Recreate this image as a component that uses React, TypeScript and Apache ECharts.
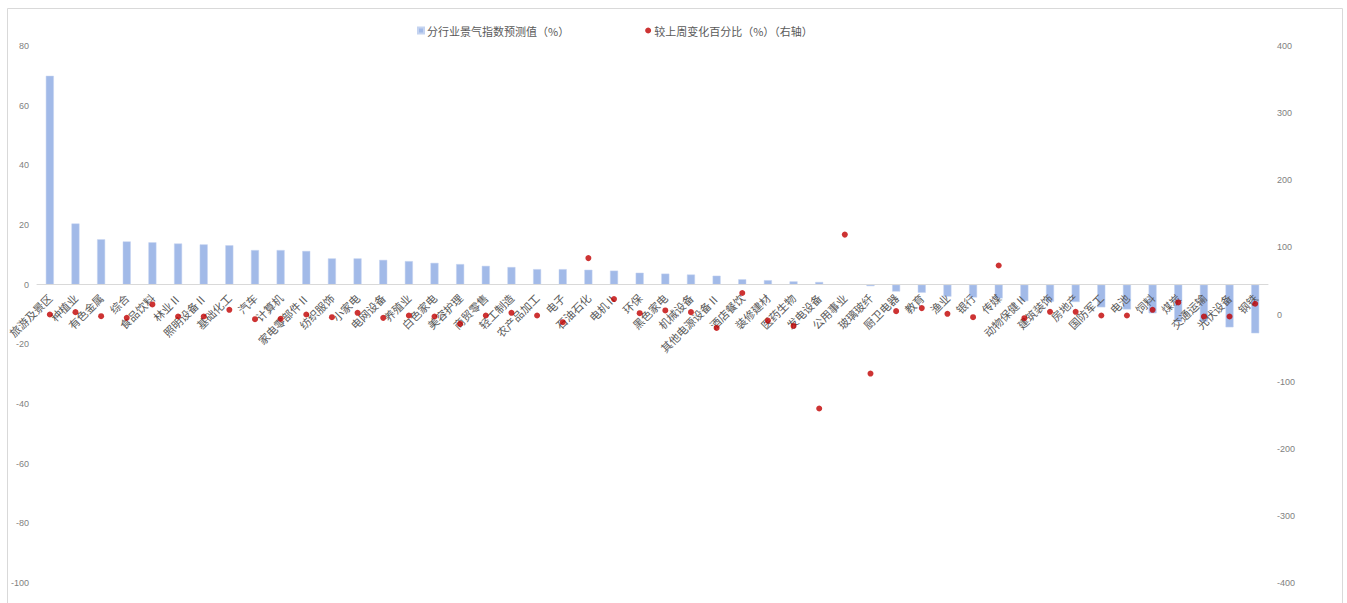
import React, { useEffect, useRef } from "react";
import * as echarts from "echarts";

const categories = [
  "旅游及景区", "种植业", "有色金属", "综合", "食品饮料", "林业Ⅱ", "照明设备Ⅱ", "基础化工",
  "汽车", "计算机", "家电零部件Ⅱ", "纺织服饰", "小家电", "电网设备", "养殖业", "白色家电",
  "美容护理", "商贸零售", "轻工制造", "农产品加工", "电子", "石油石化", "电机Ⅱ", "环保",
  "黑色家电", "机械设备", "其他电源设备Ⅱ", "酒店餐饮", "装修建材", "医药生物", "发电设备", "公用事业",
  "玻璃玻纤", "厨卫电器", "教育", "渔业", "银行", "传媒", "动物保健Ⅱ", "建筑装饰",
  "房地产", "国防军工", "电池", "饲料", "煤炭", "交通运输", "光伏设备", "钢铁",
];

const indexValues = [
  70.0, 20.5, 15.2, 14.5, 14.2, 13.8, 13.5, 13.2,
  11.6, 11.6, 11.3, 8.8, 8.8, 8.3, 7.9, 7.3,
  6.9, 6.3, 5.9, 5.2, 5.2, 5.0, 4.7, 4.0,
  3.7, 3.4, 3.0, 1.8, 1.5, 1.1, 0.9, 0.1,
  -0.5, -2.3, -2.7, -4.0, -4.3, -4.6, -5.5, -5.7,
  -5.8, -7.6, -8.3, -9.6, -12.5, -12.5, -14.3, -16.3,
];

const weeklyChange = [
  0, 3.5, -2.5, -5, 15, -3, -3, 7,
  -7, -6.5, 0, -4, 2.5, -5, -1.5, -3,
  -14, -1.5, 2.5, -1.5, -11.5, 84, 23, 2,
  6, 3.5, -20, 32, -9, -17, -140, 119,
  -88, 5, 9.5, 1, -4, 73, -5.5, 4,
  4, -1.5, -1.5, 7, 18, -3, -3, 16,
];

const seriesNames = ["分行业景气指数预测值（%）", "较上周变化百分比（%）（右轴）"];

const LEFT_MIN = -100;
const LEFT_MAX = 80;
const GRID_TOP = 46;
const GRID_BOTTOM = 20;
const CHART_H = 603;

export default function App() {
  const ref = useRef<HTMLDivElement>(null);

  useEffect(() => {
    document.body.style.margin = "0";
    if (!ref.current) return;
    const chart = echarts.init(ref.current, null, { renderer: "svg" });
    const plotH = CHART_H - GRID_TOP - GRID_BOTTOM;
    const zeroOffset = -(plotH * (0 - LEFT_MIN)) / (LEFT_MAX - LEFT_MIN);
    const axisLabelStyle = {
      color: "#7f7f7f",
      fontSize: 9,
      fontFamily: "Liberation Sans, Arial, sans-serif",
    };
    chart.setOption({
      animation: false,
      backgroundColor: "#ffffff",
      graphic: [
        {
          type: "rect",
          shape: { x: 7.5, y: 8.5, width: 1335, height: 620 },
          style: { fill: "none", stroke: "#d9d9d9", lineWidth: 1 },
          silent: true,
          z: 0,
        },
      ],
      legend: {
        left: 412,
        top: 20,
        itemGap: 76,
        itemWidth: 6,
        itemHeight: 6,
        textStyle: {
          color: "#595959",
          fontSize: 11,
          padding: [0, 0, 0, -2],
          fontFamily: "Noto Sans CJK SC, sans-serif",
        },
        data: [
          { name: seriesNames[0], icon: "rect" },
          { name: seriesNames[1], icon: "circle" },
        ],
      },
      grid: {
        left: 37,
        right: 79,
        top: GRID_TOP,
        bottom: GRID_BOTTOM,
        containLabel: false,
        outerBoundsMode: "none",
      },
      xAxis: {
        type: "category",
        data: categories,
        position: "bottom",
        offset: zeroOffset,
        z: 3,
        axisLine: {
          show: true,
          onZero: false,
          lineStyle: { color: "#d9d9d9", width: 1 },
        },
        axisTick: { show: false },
        axisLabel: {
          interval: 0,
          rotate: 45,
          margin: 11,
          color: "#595959",
          fontSize: 11,
          fontFamily: "Noto Sans CJK SC, sans-serif",
        },
      },
      yAxis: [
        {
          type: "value",
          min: LEFT_MIN,
          max: LEFT_MAX,
          interval: 20,
          position: "left",
          axisLine: { show: false },
          axisTick: { show: false },
          splitLine: { show: false },
          axisLabel: { ...axisLabelStyle, margin: 8 },
        },
        {
          type: "value",
          min: -400,
          max: 400,
          interval: 100,
          position: "right",
          axisLine: { show: false },
          axisTick: { show: false },
          splitLine: { show: false },
          axisLabel: { ...axisLabelStyle, margin: 9 },
        },
      ],
      series: [
        {
          name: seriesNames[0],
          type: "bar",
          yAxisIndex: 0,
          data: indexValues,
          barWidth: 8,
          z: 2,
          itemStyle: { color: "#a2bae8", borderColor: "#c4d3f0", borderWidth: 0.5 },
        },
        {
          name: seriesNames[1],
          type: "scatter",
          yAxisIndex: 1,
          data: weeklyChange,
          symbol: "circle",
          symbolSize: 6,
          z: 5,
          itemStyle: { color: "#c00000" },
        },
      ],
    });
    return () => chart.dispose();
  }, []);

  return <div ref={ref} style={{ width: 1347, height: 603, overflow: "hidden" }} />;
}
